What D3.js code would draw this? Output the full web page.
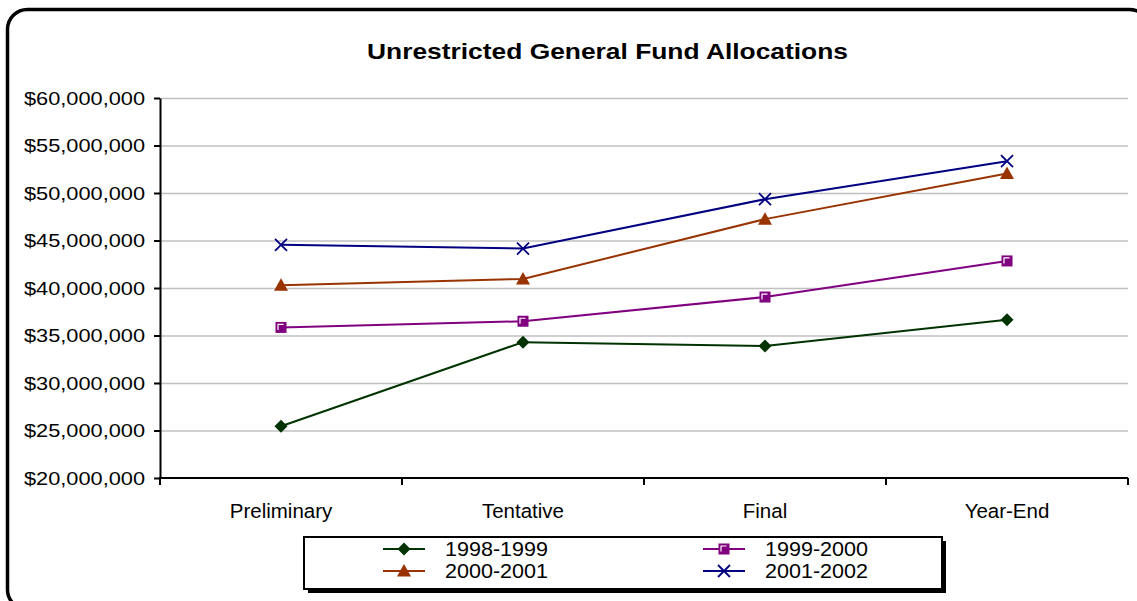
<!DOCTYPE html>
<html>
<head>
<meta charset="utf-8">
<script src="https://cdn.jsdelivr.net/npm/d3@7"></script>
<style>
  html, body { margin: 0; padding: 0; background: #fff; }
  svg { display: block; font-family: "Liberation Sans", Arial, sans-serif; }
</style>
</head>
<body>
<svg id="chart" width="1137" height="601"></svg>
<script>
// Chart data
const categories = ["Preliminary", "Tentative", "Final", "Year-End"];
const seriesNames = ["1998-1999", "1999-2000", "2000-2001", "2001-2002"];
const values1998 = [25450000, 34300000, 33900000, 36650000];
const values1999 = [35850000, 36500000, 39050000, 42850000];
const values2000 = [40300000, 40950000, 47250000, 52050000];
const values2001 = [44550000, 44150000, 49350000, 53350000];
const yTicks = [20000000, 25000000, 30000000, 35000000, 40000000, 45000000, 50000000, 55000000, 60000000];

const seriesColors = ["#003300", "#800080", "#993300", "#000080"];
const seriesMarkers = ["diamond", "square", "triangle", "cross"];

const series = seriesNames.map((name, i) => ({
  name: name,
  values: [values1998, values1999, values2000, values2001][i],
  color: seriesColors[i],
  marker: seriesMarkers[i]
}));

const svg = d3.select('#chart');

// Outer rounded frame (runs off the right / bottom edge like the original)
svg.append('rect')
  .attr('x', 7.5).attr('y', 9.5)
  .attr('width', 1142).attr('height', 600)
  .attr('rx', 20).attr('ry', 20)
  .attr('fill', 'none')
  .attr('stroke', '#000')
  .attr('stroke-width', 3.5);

// Title
svg.append('text')
  .attr('x', 367).attr('y', 59)
  .attr('textLength', 481)
  .attr('lengthAdjust', 'spacingAndGlyphs')
  .style('font-size', '22px')
  .style('font-weight', 'bold')
  .text('Unrestricted General Fund Allocations');

const plotLeft = 160, plotRight = 1128, plotTop = 98, plotBottom = 478;

const x = d3.scaleBand()
  .domain(categories)
  .range([plotLeft, plotRight]);

const y = d3.scaleLinear()
  .domain([20000000, 60000000])
  .range([plotBottom, plotTop]);

// Gridlines
svg.append('g')
  .selectAll('line')
  .data(yTicks.slice(1))
  .join('line')
    .attr('x1', plotLeft).attr('x2', plotRight)
    .attr('y1', d => y(d) + 0.5).attr('y2', d => y(d) + 0.5)
    .attr('stroke', '#c0c0c0')
    .attr('stroke-width', 1.5);

// Y axis
const fmt = d => '$' + d3.format(',')(d);
const yAxis = svg.append('g')
  .attr('transform', `translate(${plotLeft},0)`)
  .call(d3.axisLeft(y).tickValues(yTicks).tickFormat(fmt).tickSize(6).tickSizeOuter(0).tickPadding(9));
yAxis.select('.domain').attr('stroke', '#000').attr('stroke-width', 2);
yAxis.selectAll('.tick line').attr('stroke', '#000').attr('stroke-width', 2);
yAxis.selectAll('.tick text')
  .style('font-size', '19px')
  .attr('textLength', 121)
  .attr('lengthAdjust', 'spacingAndGlyphs')
  .attr('fill', '#000')
  .attr('font-family', '"Liberation Sans", Arial, sans-serif');

// X axis: ticks at band boundaries
const xAxis = svg.append('g')
  .attr('transform', `translate(0,${plotBottom})`);
xAxis.append('line')
  .attr('x1', plotLeft - 1).attr('x2', plotRight)
  .attr('y1', 0).attr('y2', 0)
  .attr('stroke', '#000').attr('stroke-width', 2);
const boundaries = categories.map(c => x(c)).concat([x(categories[categories.length - 1]) + x.bandwidth()]);
xAxis.selectAll('line.tick')
  .data(boundaries)
  .join('line')
    .attr('class', 'tick')
    .attr('x1', d => d).attr('x2', d => d)
    .attr('y1', 0).attr('y2', 7)
    .attr('stroke', '#000').attr('stroke-width', 2);
xAxis.selectAll('text')
  .data(categories)
  .join('text')
    .attr('x', d => x(d) + x.bandwidth() / 2)
    .attr('y', 40)
    .attr('text-anchor', 'middle')
    .style('font-size', '20.5px')
    .text(d => d);

// Marker drawing
function drawMarker(g, type, color, cx, cy) {
  if (type === 'diamond') {
    g.append('path')
      .attr('d', `M${cx},${cy - 6.5}L${cx + 6.5},${cy}L${cx},${cy + 6.5}L${cx - 6.5},${cy}Z`)
      .attr('fill', color);
  } else if (type === 'square') {
    g.append('rect')
      .attr('x', cx - 5.5).attr('y', cy - 5.5)
      .attr('width', 11).attr('height', 11)
      .attr('fill', color);
    g.append('path')
      .attr('d', `M${cx - 3},${cy + 2.5}V${cy - 3}H${cx + 2.5}`)
      .attr('fill', 'none').attr('stroke', '#fff').attr('stroke-width', 1.2);
  } else if (type === 'triangle') {
    g.append('path')
      .attr('d', `M${cx},${cy - 7}L${cx + 7},${cy + 5.5}L${cx - 7},${cy + 5.5}Z`)
      .attr('fill', color);
  } else if (type === 'cross') {
    g.append('path')
      .attr('d', `M${cx - 6},${cy - 6}L${cx + 6},${cy + 6}M${cx + 6},${cy - 6}L${cx - 6},${cy + 6}`)
      .attr('stroke', color).attr('stroke-width', 1.8).attr('fill', 'none');
  }
}

const line = d3.line()
  .x((d, i) => x(categories[i]) + x.bandwidth() / 2)
  .y(d => y(d));

series.forEach(s => {
  const g = svg.append('g');
  g.append('path')
    .datum(s.values)
    .attr('d', line)
    .attr('fill', 'none')
    .attr('stroke', s.color)
    .attr('stroke-width', 2);
  s.values.forEach((v, i) => {
    drawMarker(g, s.marker, s.color, x(categories[i]) + x.bandwidth() / 2, y(v));
  });
});

// Legend
const legendX = 304, legendY = 537, legendW = 638, legendH = 52;
svg.append('rect')
  .attr('x', legendX + 4).attr('y', legendY + 4)
  .attr('width', legendW).attr('height', legendH)
  .attr('fill', '#000');
svg.append('rect')
  .attr('x', legendX).attr('y', legendY)
  .attr('width', legendW).attr('height', legendH)
  .attr('fill', '#fff')
  .attr('stroke', '#000')
  .attr('stroke-width', 2);

const legendCols = [383, 703];
const legendRows = [549, 571];
series.forEach((s, i) => {
  const lx = legendCols[i % 2], ly = legendRows[Math.floor(i / 2)];
  const g = svg.append('g');
  g.append('line')
    .attr('x1', lx).attr('x2', lx + 42)
    .attr('y1', ly).attr('y2', ly)
    .attr('stroke', s.color).attr('stroke-width', 2);
  drawMarker(g, s.marker, s.color, lx + 21, ly);
  g.append('text')
    .attr('x', lx + 62).attr('y', ly + 7)
    .attr('textLength', 103)
    .attr('lengthAdjust', 'spacingAndGlyphs')
    .style('font-size', '20px')
    .text(s.name);
});
</script>
</body>
</html>
